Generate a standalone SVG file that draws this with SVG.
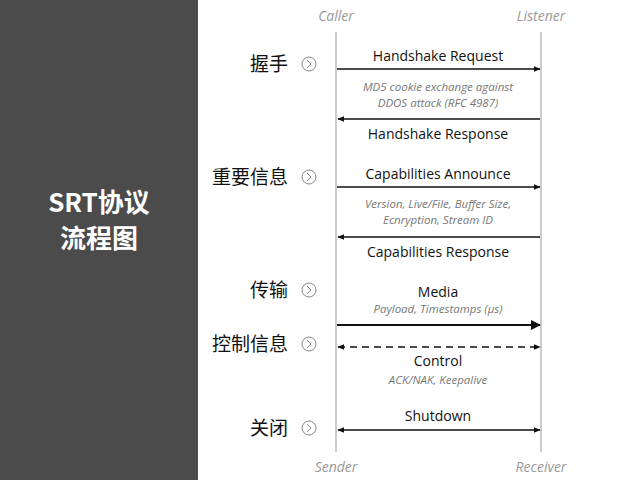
<svg xmlns="http://www.w3.org/2000/svg" width="640" height="480" viewBox="0 0 640 480">
<style>
.cn{font-family:"Noto Sans CJK SC","Noto Sans",sans-serif;font-size:19px;fill:#111;text-anchor:end}
.lbl{font-family:"Open Sans","Noto Sans",sans-serif;font-size:14px;fill:#111;text-anchor:middle}
.sub{font-family:"Open Sans","Noto Sans",sans-serif;font-size:11.5px;font-style:italic;fill:#777;text-anchor:middle}
.role{font-family:"Open Sans","Noto Sans",sans-serif;font-size:14px;font-style:italic;fill:#999;text-anchor:middle}
.life{stroke:#999;stroke-width:1}
.arr{stroke:#111;stroke-width:1.3;fill:none}
.ic{fill:none;stroke:#888;stroke-width:1}
</style>
<defs>
<marker id="ah" viewBox="0 0 10 10" refX="9" refY="5" markerWidth="7" markerHeight="7" orient="auto-start-reverse" markerUnits="userSpaceOnUse"><path d="M0,1 L10,5 L0,9 z" fill="#111"/></marker>
<marker id="ahb" viewBox="0 0 10 10" refX="9" refY="5" markerWidth="10" markerHeight="10" orient="auto" markerUnits="userSpaceOnUse"><path d="M0,0 L10,5 L0,10 z" fill="#111"/></marker>
</defs>
<rect width="640" height="480" fill="#fff"/>
<rect x="0" y="0" width="198" height="480" fill="#4b4b4b"/>
<text x="99" y="212" font-family="Noto Sans CJK SC,sans-serif" font-weight="bold" font-size="26" fill="#fff" text-anchor="middle">SRT协议</text>
<text x="99" y="248" font-family="Noto Sans CJK SC,sans-serif" font-weight="bold" font-size="26" fill="#fff" text-anchor="middle">流程图</text>
<g id="caller"><text class="role" x="336" y="21">Caller</text><line class="life" x1="336" y1="32" x2="336" y2="452"/><text class="role" x="336" y="472">Sender</text></g>
<g id="listener"><text class="role" x="541" y="21">Listener</text><line class="life" x1="541" y1="32" x2="541" y2="452"/><text class="role" x="541" y="472">Receiver</text></g>
<g id="steps">
<g id="s1"><text class="cn" x="288" y="71">握手</text><circle class="ic" cx="309" cy="64" r="7"/><path class="ic" d="M307,60 L311,64 L307,68"/></g>
<g id="s2"><text class="cn" x="288" y="184">重要信息</text><circle class="ic" cx="309" cy="177" r="7"/><path class="ic" d="M307,173 L311,177 L307,181"/></g>
<g id="s3"><text class="cn" x="288" y="297">传输</text><circle class="ic" cx="309" cy="290" r="7"/><path class="ic" d="M307,286 L311,290 L307,294"/></g>
<g id="s4"><text class="cn" x="288" y="351">控制信息</text><circle class="ic" cx="309" cy="344" r="7"/><path class="ic" d="M307,340 L311,344 L307,348"/></g>
<g id="s5"><text class="cn" x="288" y="435">关闭</text><circle class="ic" cx="309" cy="428" r="7"/><path class="ic" d="M307,424 L311,428 L307,432"/></g>
</g>
<g id="connectors">
<line class="arr" x1="337" y1="69" x2="540" y2="69" marker-end="url(#ah)"/>
<line class="arr" x1="540" y1="119" x2="338" y2="119" marker-end="url(#ah)"/>
<line class="arr" x1="337" y1="187" x2="540" y2="187" marker-end="url(#ah)"/>
<line class="arr" x1="540" y1="237" x2="338" y2="237" marker-end="url(#ah)"/>
<line x1="337" y1="325" x2="540" y2="325" stroke="#111" stroke-width="2.2" marker-end="url(#ahb)"/>
<line class="arr" x1="338" y1="347" x2="540" y2="347" stroke-dasharray="7,5" marker-start="url(#ah)" marker-end="url(#ah)"/>
<line class="arr" x1="338" y1="430" x2="540" y2="430" marker-start="url(#ah)" marker-end="url(#ah)"/>
</g>
<g id="labels">
<text class="lbl" x="438" y="61">Handshake Request</text>
<text class="sub" x="438" y="91">MD5 cookie exchange against</text>
<text class="sub" x="438" y="107">DDOS attack (RFC 4987)</text>
<text class="lbl" x="438" y="139">Handshake Response</text>
<text class="lbl" x="438" y="179">Capabilities Announce</text>
<text class="sub" x="438" y="208">Version, Live/File, Buffer Size,</text>
<text class="sub" x="438" y="224">Ecnryption, Stream ID</text>
<text class="lbl" x="438" y="257">Capabilities Response</text>
<text class="lbl" x="438" y="297">Media</text>
<text class="sub" x="438" y="313">Payload, Timestamps (µs)</text>
<text class="lbl" x="438" y="366">Control</text>
<text class="sub" x="438" y="384">ACK/NAK, Keepalive</text>
<text class="lbl" x="438" y="421">Shutdown</text>
</g>
</svg>
